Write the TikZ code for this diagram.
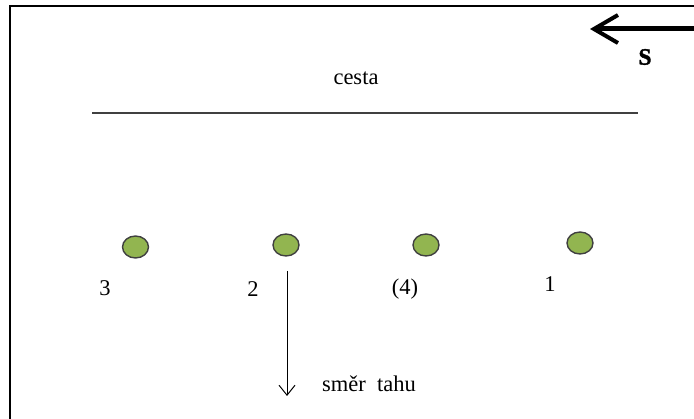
\documentclass[tikz,border=0pt]{standalone}
\usepackage{fontspec}
\setmainfont{Liberation Serif}
\newfontfamily\headingbold{Liberation Serif Bold}[FakeBold=1.6]
\usetikzlibrary{arrows.meta,shapes.geometric}
\definecolor{treegreen}{HTML}{92B550}
\definecolor{treeline}{HTML}{404040}
\definecolor{roadgray}{HTML}{404040}
\begin{document}
\begin{tikzpicture}[x=1pt,y=-1pt,
  tree/.style={ellipse, draw=treeline, line width=1.4pt, fill=treegreen,
    minimum width=26pt, minimum height=22pt, inner sep=0pt},
  lbl/.style={font=\fontsize{22.5}{26}\selectfont, inner sep=0pt},
  frame/.style={line width=2pt}]
\useasboundingbox (0,0) rectangle (694,419);
% page frame (top and left edges)
\draw[frame] (10,419) -- (10,6) -- (694,6);
% north arrow
\coordinate (nA) at (694,29);
\coordinate (nB) at (590,29);
\draw[line width=5pt, -{Straight Barb[length=24pt,width=28pt,line width=4pt]}] (nA) -- (nB);
\node[inner sep=0pt, font=\headingbold\fontsize{23.5}{26}\selectfont] (S) at (645,57) {S};
% road
\node[lbl] (cesta) at (356,78) {cesta};
\coordinate (r1) at (92,113);
\coordinate (r2) at (638,113);
\draw[roadgray, line width=1.4pt] (r1) -- (r2);
% trees
\node[tree] (t3) at (135.5,247) {};
\node[tree] (t2) at (286,245) {};
\node[tree] (t4) at (426,245) {};
\node[tree] (t1) at (580,243) {};
\node[lbl] (l3) at (105,288) {3};
\node[lbl] (l2) at (253,289) {2};
\node[lbl] (l4) at (405,289) {(4)};
\node[lbl] (l1) at (550,284) {1};
% pulling direction
\coordinate (p1) at (287,271);
\coordinate (p2) at (287,396);
\draw[line width=1pt, -{Straight Barb[length=10pt,width=16pt,line width=1pt]}] (p1) -- (p2);
\node[lbl] (smer) at (369,384) {směr\ \ tahu};
\end{tikzpicture}
\end{document}
